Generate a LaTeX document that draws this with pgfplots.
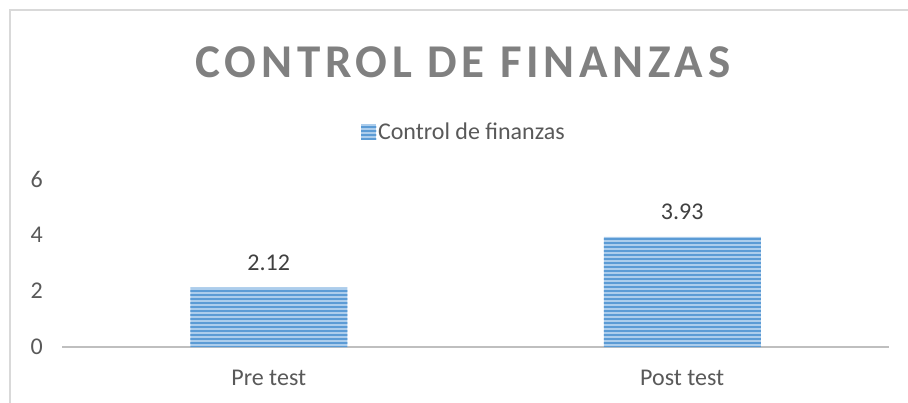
\documentclass[border=0pt]{standalone}
\usepackage{pgfplots}
\pgfplotsset{compat=1.18}
\usepackage{fontspec}
\setmainfont{Carlito}
\newfontfamily\titlefont[LetterSpace=10]{Carlito}
\usetikzlibrary{patterns.meta}
\definecolor{barlight}{RGB}{172,205,236}
\definecolor{bardark}{RGB}{91,155,213}
\definecolor{labelgray}{RGB}{89,89,89}
\definecolor{titlegray}{RGB}{128,128,128}
\definecolor{datagray}{RGB}{64,64,64}
\definecolor{axisgray}{RGB}{191,191,191}
\definecolor{bordergray}{RGB}{217,217,217}
\newcommand{\lblfont}{\fontsize{24bp}{28bp}\selectfont}
\tikzset{barfill/.style={fill=barlight, postaction={pattern={Lines[angle=0,distance=4bp,line width=1.7bp]}, pattern color=bardark}}}
\begin{document}
\begin{tikzpicture}
\path[use as bounding box] (0,0) rectangle (908bp,403bp);
\draw[bordergray, line width=1.5bp] (10bp,0) -- (10bp,393bp) -- (908bp,393bp);
\begin{axis}[
  at={(62bp,56bp)}, anchor=south west,
  scale only axis, width=827bp, height=168bp,
  xmin=-0.5, xmax=1.5, ymin=0, ymax=6,
  ytick={0,2,4,6}, xtick={0,1}, xticklabels={Pre test, Post test},
  /pgf/number format/assume math mode=true,
  separate axis lines,
  axis x line*=bottom, axis y line*=left,
  y axis line style={draw=none},
  x axis line style={draw=axisgray, line width=2.5bp, -},
  major tick length=0pt,
  tick label style={font=\lblfont, text=labelgray},
  yticklabel style={inner sep=0pt, anchor=east, xshift=-19bp},
  xticklabel style={inner sep=0pt, anchor=north, yshift=-23bp},
  ybar, bar width=157bp,
  nodes near coords,
  nodes near coords style={font=\lblfont, text=datagray, inner sep=0pt, anchor=base, yshift=17bp,
    /pgf/number format/.cd, fixed, fixed zerofill, precision=2},
  legend style={draw=none, fill=none, font=\lblfont, text=labelgray, at={(0.486,1.28)}, anchor=center},
  legend image code/.code={\fill[barfill] (0bp,-7.5bp) rectangle (15bp,7.5bp);},
  clip=false,
]
\addplot[barfill, draw=none] coordinates {(0,2.12) (1,3.93)};
\addlegendentry{Control de finanzas}
\end{axis}
\node[text=titlegray, font=\titlefont\bfseries\fontsize{47bp}{51bp}\selectfont] at (463bp,341bp) {CONTROL DE FINANZAS};
\end{tikzpicture}
\end{document}
